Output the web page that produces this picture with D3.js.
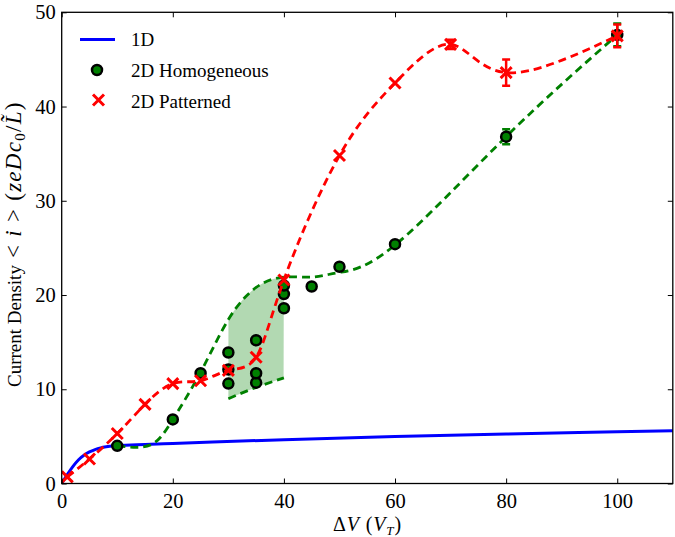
<!DOCTYPE html>
<html>
<head>
<meta charset="utf-8">
<script src="https://cdn.jsdelivr.net/npm/d3@7"></script>
<style>
html,body{margin:0;padding:0;background:#fff;}
text{font-family:"Liberation Serif","DejaVu Serif",serif;fill:#000;}
</style>
</head>
<body>
<svg id="chart" width="675" height="537"></svg>
<script>
// ---- data ----
const xTicks = [0, 20, 40, 60, 80, 100];
const yTicks = [0, 10, 20, 30, 40, 50];

// 1D model curve
const oneDX = [0, 1, 2, 3, 4, 5, 6, 7, 8, 10, 15, 20, 40, 60, 80, 100, 110];
const oneDY = [0, 0.95, 1.8, 2.5, 3.0, 3.35, 3.6, 3.78, 3.9, 4.02, 4.15, 4.25, 4.65, 4.98, 5.25, 5.48, 5.6];

// 2D Homogeneous measurements
const homX = [10, 20, 25, 30, 30, 30, 35, 35, 35, 40, 40, 40, 45, 50, 60, 80, 100];
const homY = [4.0, 6.8, 11.7, 10.6, 12.1, 13.9, 10.7, 11.7, 15.2, 18.6, 20.1, 21.0, 20.9, 23.0, 25.4, 36.8, 47.6];
const homErr = [0, 0, 0, 0, 0, 0, 0, 0, 0, 0, 0, 0, 0, 0, 0, 0.8, 1.2];

// 2D Homogeneous trend (dashed) and lower spread bound
const homFitX = [10, 16, 20, 25, 30, 35, 40, 45, 50, 60, 80, 100];
const homFitY = [4.0, 4.1, 6.8, 11.8, 17.4, 20.8, 21.9, 21.9, 22.4, 25.3, 36.8, 47.6];
const homLowX = [30, 35, 40];
const homLowY = [9.0, 10.2, 11.2];

// 2D Patterned measurements
const patX = [1, 5, 10, 15, 20, 25, 30, 35, 40, 50, 60, 70, 80, 100];
const patY = [0.7, 2.6, 5.3, 8.4, 10.6, 10.9, 12.0, 13.4, 21.6, 34.8, 42.5, 46.6, 43.6, 47.5];
const patErr = [0, 0, 0, 0, 0, 0, 0, 0, 0, 0, 0, 0.5, 1.4, 1.2];

const legendLabels = ["1D", "2D Homogeneous", "2D Patterned"];

// ---- layout ----
const svg = d3.select("#chart");
const L = 61.7, R = 672.8, T = 12.3, B = 483.5;
const x = d3.scaleLinear().domain([0, 110]).range([L, R]);
const y = d3.scaleLinear().domain([0, 50]).range([B, T]);

const blue = "#0000ff", red = "#ff0000", green = "#008000";

const g = svg.append("g");
svg.append("clipPath").attr("id", "clip")
  .append("rect").attr("x", L).attr("y", T).attr("width", R - L).attr("height", B - T);
const plot = g.append("g").attr("clip-path", "url(#clip)");

const bandG = plot.append("g");

// blue 1D
plot.append("path")
  .datum(oneDX.map((v, i) => [v, oneDY[i]]))
  .attr("d", d3.line().x(d => x(d[0])).y(d => y(d[1])).curve(d3.curveMonotoneX))
  .attr("fill", "none").attr("stroke", blue).attr("stroke-width", 3);

const fitSpline = d3.line().x(d => x(d[0])).y(d => y(d[1])).curve(d3.curveNatural);
const homFitData = homFitX.map((v, i) => [v, homFitY[i]]);
const lowData = homLowX.map((v, i) => [v, homLowY[i]]);

// green dashed curves
const upPath = plot.append("path").datum(homFitData).attr("d", fitSpline)
  .attr("fill", "none").attr("stroke", green).attr("stroke-width", 2.8).attr("stroke-dasharray", "8,5");
const lowPath = plot.append("path").datum(lowData).attr("d", fitSpline)
  .attr("fill", "none").attr("stroke", green).attr("stroke-width", 2.8).attr("stroke-dasharray", "8,5");

function sample(node, x0, x1) {
  const out = [], len = node.getTotalLength();
  for (let s = 0; s <= len; s += 0.5) {
    const p = node.getPointAtLength(s);
    if (p.x >= x0 - 0.01 && p.x <= x1 + 0.01) out.push([p.x, p.y]);
  }
  return out;
}
const up = sample(upPath.node(), x(30), x(40));
const lo = sample(lowPath.node(), x(30), x(40));
bandG.append("path").datum(up.concat(lo.reverse()))
  .attr("d", d3.line().x(d => d[0]).y(d => d[1]))
  .attr("fill", green).attr("fill-opacity", 0.3).attr("stroke", "none");

// green markers + error bars
const homG = plot.append("g");
homX.forEach((v, i) => {
  if (homErr[i] > 0) {
    const cx = x(v);
    homG.append("line").attr("x1", cx).attr("x2", cx).attr("y1", y(homY[i] - homErr[i])).attr("y2", y(homY[i] + homErr[i]))
      .attr("stroke", green).attr("stroke-width", 2.5);
    [homY[i] - homErr[i], homY[i] + homErr[i]].forEach(e => {
      homG.append("line").attr("x1", cx - 4).attr("x2", cx + 4).attr("y1", y(e)).attr("y2", y(e))
        .attr("stroke", green).attr("stroke-width", 2.5);
    });
  }
});
homG.selectAll("circle").data(homX.map((v, i) => [v, homY[i]])).join("circle")
  .attr("cx", d => x(d[0])).attr("cy", d => y(d[1])).attr("r", 5)
  .attr("fill", green).attr("stroke", "#000").attr("stroke-width", 2.5);

// red dashed curve
plot.append("path").datum(patX.map((v, i) => [v, patY[i]]))
  .attr("d", fitSpline)
  .attr("fill", "none").attr("stroke", red).attr("stroke-width", 2.8).attr("stroke-dasharray", "8,5");

// red markers + error bars
const patG = plot.append("g");
function cross(sel, cx, cy, s) {
  sel.append("path").attr("d", `M${cx - s},${cy - s}L${cx + s},${cy + s}M${cx - s},${cy + s}L${cx + s},${cy - s}`)
    .attr("stroke", red).attr("stroke-width", 3).attr("fill", "none");
}
patX.forEach((v, i) => {
  const cx = x(v), cy = y(patY[i]);
  if (patErr[i] > 0) {
    patG.append("line").attr("x1", cx).attr("x2", cx).attr("y1", y(patY[i] - patErr[i])).attr("y2", y(patY[i] + patErr[i]))
      .attr("stroke", red).attr("stroke-width", 2.5);
    [patY[i] - patErr[i], patY[i] + patErr[i]].forEach(e => {
      patG.append("line").attr("x1", cx - 4).attr("x2", cx + 4).attr("y1", y(e)).attr("y2", y(e))
        .attr("stroke", red).attr("stroke-width", 2.5);
    });
  }
  cross(patG, cx, cy, 5.5);
});

// ---- axes / frame ----
const axG = g.append("g");
axG.append("rect").attr("x", L).attr("y", T).attr("width", R - L).attr("height", B - T)
  .attr("fill", "none").attr("stroke", "#000").attr("stroke-width", 1.3);

axG.append("g").attr("transform", `translate(0,${B})`).call(d3.axisBottom(x).tickValues(xTicks).tickSize(-5).tickPadding(10));
axG.append("g").attr("transform", `translate(0,${T})`).call(d3.axisTop(x).tickValues(xTicks).tickSize(-5).tickFormat(""));
axG.append("g").attr("transform", `translate(${L},0)`).call(d3.axisLeft(y).tickValues(yTicks).tickSize(-5).tickPadding(6));
axG.append("g").attr("transform", `translate(${R},0)`).call(d3.axisRight(y).tickValues(yTicks).tickSize(-5).tickFormat(""));
axG.selectAll(".domain").remove();
axG.selectAll(".tick line").attr("stroke", "#000").attr("stroke-width", 1);
axG.selectAll(".tick text").attr("font-family", "Liberation Serif").attr("font-size", 20.5).attr("fill", "#000");

function fitMath(textSel, mathTspans, target) {
  const len = textSel.node().getComputedTextLength();
  let n = 0;
  mathTspans.forEach(t => { n += t.text().length; });
  const ls = Math.max(0, (target - len) / n);
  mathTspans.forEach(t => t.attr("letter-spacing", ls));
}

// x label
const xl = svg.append("text").attr("x", 333).attr("y", 531).attr("font-size", 20);
const xm = [];
xm.push(xl.append("tspan").text("Δ"));
xm.push(xl.append("tspan").attr("font-style", "italic").text("V"));
xm.push(xl.append("tspan").text(" ("));
xm.push(xl.append("tspan").attr("font-style", "italic").text("V"));
xm.push(xl.append("tspan").attr("font-style", "italic").attr("font-size", 13).attr("dy", 4).text("T"));
xm.push(xl.append("tspan").attr("dy", -4).text(")"));
fitMath(xl, xm, 69);

// y label
const yl = svg.append("text").attr("transform", `translate(21,387) rotate(-90)`).attr("font-size", 19);
yl.append("tspan").text("Current Density");
const ym = [];
ym.push(yl.append("tspan").attr("font-size", 23).text(" < "));
ym.push(yl.append("tspan").attr("font-size", 23).attr("font-style", "italic").text("i"));
ym.push(yl.append("tspan").attr("font-size", 23).text(" > ("));
ym.push(yl.append("tspan").attr("font-size", 23).attr("font-style", "italic").text("zeDc"));
ym.push(yl.append("tspan").attr("font-size", 15).attr("dy", 4).text("0"));
ym.push(yl.append("tspan").attr("font-size", 23).attr("dy", -4).text("/"));
ym.push(yl.append("tspan").attr("font-size", 23).attr("font-style", "italic").text("L\u0303"));
ym.push(yl.append("tspan").attr("font-size", 23).text(")"));
fitMath(yl, ym, 287);

// legend
const lg = svg.append("g");
lg.append("line").attr("x1", 80).attr("x2", 115).attr("y1", 39.5).attr("y2", 39.5).attr("stroke", blue).attr("stroke-width", 3);
lg.append("circle").attr("cx", 97).attr("cy", 70).attr("r", 5).attr("fill", green).attr("stroke", "#000").attr("stroke-width", 2.5);
cross(lg, 98.5, 100, 5.5);
lg.selectAll("text.lt").data(legendLabels).join("text").attr("class", "lt")
  .attr("x", 131).attr("y", (d, i) => 46 + i * 31).attr("font-size", 19).text(d => d);
</script>
</body>
</html>
